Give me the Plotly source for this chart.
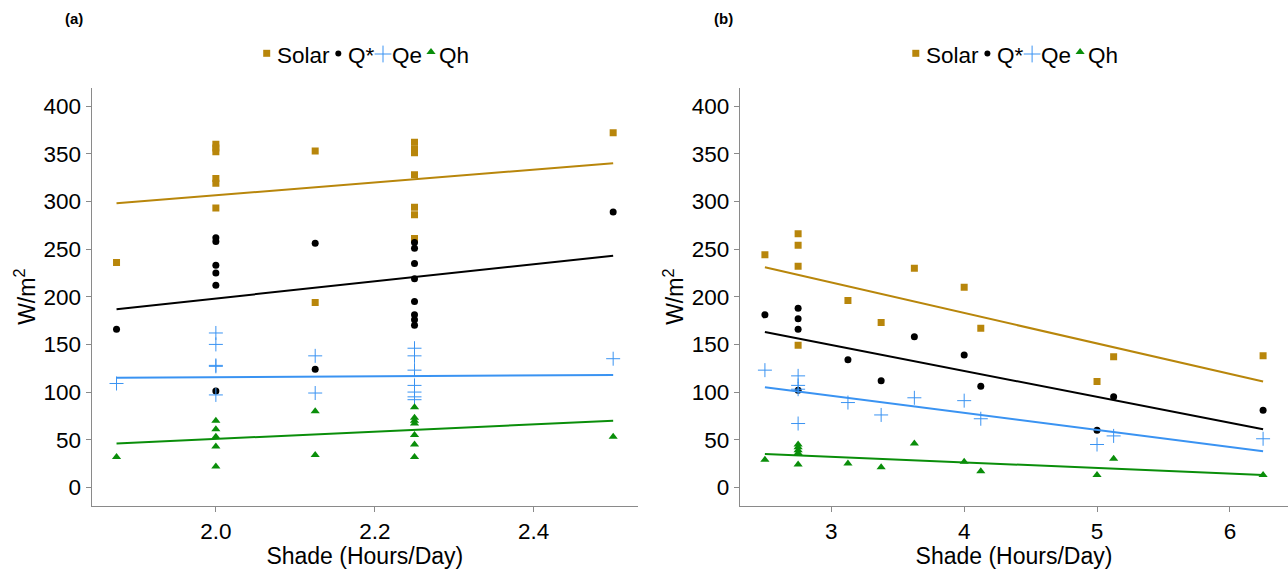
import plotly.graph_objects as go

W, H = 1288, 569

# ---------------- data: panel (a) ----------------
a_solar_x = [1.875, 2.0, 2.0, 2.0, 2.0, 2.0, 2.0, 2.125, 2.125, 2.25, 2.25, 2.25, 2.25, 2.25, 2.25, 2.25, 2.5]
a_solar_y = [236, 360, 356, 352, 324, 319, 293, 353, 194, 362, 355, 351, 328, 294, 286, 261, 372]

a_qstar_x = [1.875, 2.0, 2.0, 2.0, 2.0, 2.0, 2.0, 2.125, 2.125, 2.25, 2.25, 2.25, 2.25, 2.25, 2.25, 2.25, 2.25, 2.5]
a_qstar_y = [166, 262, 258, 233, 225, 212, 101, 256, 124, 257, 251, 235, 219, 195, 181, 176, 170, 289]

a_qe_x = [1.875, 2.0, 2.0, 2.0, 2.0, 2.0, 2.125, 2.125, 2.25, 2.25, 2.25, 2.25, 2.25, 2.25, 2.25, 2.5]
a_qe_y = [109, 162, 150, 128, 127, 97, 138, 99, 146, 138, 123, 107, 100, 95, 92, 135]

a_qh_x = [1.875, 2.0, 2.0, 2.0, 2.0, 2.0, 2.125, 2.125, 2.25, 2.25, 2.25, 2.25, 2.25, 2.25, 2.25, 2.5]
a_qh_y = [32, 70, 61, 53, 43, 22, 80, 34, 84, 73, 70, 67, 55, 45, 32, 53]

# fitted trend lines (value at first / last shade value), panel (a)
a_fit_x = [1.875, 2.5]
a_fit_solar = [298, 340]
a_fit_qstar = [187, 243]
a_fit_qe = [115, 118]
a_fit_qh = [46, 70]

# ---------------- data: panel (b) ----------------
b_solar_x = [2.5, 2.75, 2.75, 2.75, 2.75, 3.125, 3.375, 3.625, 4.0, 4.125, 5.0, 5.125, 6.25]
b_solar_y = [244, 266, 254, 232, 149, 196, 173, 230, 210, 167, 111, 137, 138]

b_qstar_x = [2.5, 2.75, 2.75, 2.75, 2.75, 3.125, 3.375, 3.625, 4.0, 4.125, 5.0, 5.125, 6.25]
b_qstar_y = [181, 188, 177, 166, 102, 134, 112, 158, 139, 106, 60, 95, 81]

b_qe_x = [2.5, 2.75, 2.75, 2.75, 2.75, 3.125, 3.375, 3.625, 4.0, 4.125, 5.0, 5.125, 6.25]
b_qe_y = [123, 117, 107, 103, 67, 89, 76, 94, 91, 72, 45, 54, 51]

b_qh_x = [2.5, 2.75, 2.75, 2.75, 2.75, 2.75, 3.125, 3.375, 3.625, 4.0, 4.125, 5.0, 5.125, 6.25]
b_qh_y = [29, 45, 42, 39, 36, 24, 25, 21, 46, 27, 17, 13, 30, 13]

b_fit_x = [2.5, 6.25]
b_fit_solar = [231, 111]
b_fit_qstar = [163, 61]
b_fit_qe = [105, 38]
b_fit_qh = [35, 13]

series_names = ["Solar", "Q*", "Qe", "Qh"]
colors = {"Solar": "#B8860B", "Q*": "#000000", "Qe": "#3A93F2", "Qh": "#0A8E0A"}
symbols = {"Solar": "square", "Q*": "circle", "Qe": "cross-thin-open", "Qh": "triangle-up"}
sizes = {"Solar": 7, "Q*": 7, "Qe": 10, "Qh": 8}

y_ticks = [0, 50, 100, 150, 200, 250, 300, 350, 400]
a_x_ticks = [2.0, 2.2, 2.4]
a_x_ticklabels = ["2.0", "2.2", "2.4"]
b_x_ticks = [3, 4, 5, 6]
b_x_ticklabels = ["3", "4", "5", "6"]

FONT = "Liberation Sans, Arial, sans-serif"

fig = go.Figure()

panels = [
    ("x", "y", a_fit_x,
     {"Solar": (a_solar_x, a_solar_y), "Q*": (a_qstar_x, a_qstar_y),
      "Qe": (a_qe_x, a_qe_y), "Qh": (a_qh_x, a_qh_y)},
     {"Solar": a_fit_solar, "Q*": a_fit_qstar, "Qe": a_fit_qe, "Qh": a_fit_qh}),
    ("x2", "y2", b_fit_x,
     {"Solar": (b_solar_x, b_solar_y), "Q*": (b_qstar_x, b_qstar_y),
      "Qe": (b_qe_x, b_qe_y), "Qh": (b_qh_x, b_qh_y)},
     {"Solar": b_fit_solar, "Q*": b_fit_qstar, "Qe": b_fit_qe, "Qh": b_fit_qh}),
]

for xa, ya, fx, pts, fits in panels:
    for s in series_names:
        px_, py_ = pts[s]
        mk = dict(color=colors[s], size=sizes[s], symbol=symbols[s])
        if s == "Qe":
            mk["line"] = dict(color="#4A9CF5", width=1)
        fig.add_trace(go.Scatter(x=px_, y=py_, mode="markers", xaxis=xa, yaxis=ya,
                                 marker=mk, showlegend=False, name=s))
    for s in series_names:
        fig.add_trace(go.Scatter(x=fx, y=fits[s], mode="lines", xaxis=xa, yaxis=ya,
                                 line=dict(color=colors[s], width=2), showlegend=False,
                                 name=s + " fit"))

# legend symbols drawn on a full-figure overlay axis (pixel coordinates)
leg_offsets = {"Solar": -98.2, "Q*": -26.6, "Qe": 18.1, "Qh": 66.1}
leg_text_offsets = {"Solar": -88.9, "Q*": -18.2, "Qe": 25.8, "Qh": 73.4}
leg_sym_y = {"Solar": 53.3, "Q*": 53.5, "Qe": 54, "Qh": 52}
leg_sizes = {"Solar": 7, "Q*": 6, "Qe": 12, "Qh": 8}
panel_centers = [364.9, 1014.0]
for s in series_names:
    fig.add_trace(go.Scatter(
        x=[c + leg_offsets[s] for c in panel_centers], y=[leg_sym_y[s]] * 2,
        mode="markers", xaxis="x3", yaxis="y3", showlegend=False, hoverinfo="skip",
        marker=dict(color=colors[s], size=leg_sizes[s], symbol=symbols[s],
                    line=dict(color="#8CC0F8", width=1.0) if s == "Qe" else dict(width=0)),
    ))

annotations = []
for c in panel_centers:
    for s in series_names:
        annotations.append(dict(
            x=(c + leg_text_offsets[s]) / W, y=1 - 56 / H, xref="paper", yref="paper",
            text=s, showarrow=False, xanchor="left", yanchor="middle",
            font=dict(family=FONT, size=22.5, color="black"), xshift=-1))
annotations.append(dict(x=74 / W, y=1 - 19 / H, xref="paper", yref="paper", text="<b>(a)</b>",
                        showarrow=False, xanchor="center", yanchor="middle",
                        font=dict(family=FONT, size=15, color="black")))
annotations.append(dict(x=723 / W, y=1 - 19 / H, xref="paper", yref="paper", text="<b>(b)</b>",
                        showarrow=False, xanchor="center", yanchor="middle",
                        font=dict(family=FONT, size=15, color="black")))

ydom = [(H - 505.5) / H, (H - 88) / H]
axis_common = dict(showline=True, linecolor="#8a8a8a", linewidth=1.3, ticks="outside",
                   ticklen=5, tickcolor="#8a8a8a", tickwidth=1.2, showgrid=False,
                   zeroline=False, tickfont=dict(family=FONT, size=22.5, color="black"),
                   mirror=False)

fig.update_layout(
    width=W, height=H, margin=dict(l=0, r=0, t=0, b=0),
    paper_bgcolor="white", plot_bgcolor="rgba(0,0,0,0)",
    annotations=annotations,
    xaxis=dict(domain=[91.7 / W, 638 / W], range=[1.84375, 2.53125], anchor="y",
               tickvals=a_x_ticks, ticktext=a_x_ticklabels,
               title=dict(text="Shade (Hours/Day)", font=dict(family=FONT, size=23, color="black"), standoff=7),
               **axis_common),
    yaxis=dict(domain=ydom, range=[-19, 419], anchor="x", tickvals=y_ticks,
               title=dict(text="W/m<sup>2</sup>", font=dict(family=FONT, size=23, color="black"), standoff=1),
               **axis_common),
    xaxis2=dict(domain=[740 / W, 1.0], range=[2.3125, 6.4375], anchor="y2",
                tickvals=b_x_ticks, ticktext=b_x_ticklabels,
                title=dict(text="Shade (Hours/Day)", font=dict(family=FONT, size=23, color="black"), standoff=7),
                **axis_common),
    yaxis2=dict(domain=ydom, range=[-19, 419], anchor="x2", tickvals=y_ticks,
                title=dict(text="W/m<sup>2</sup>", font=dict(family=FONT, size=23, color="black"), standoff=1),
                **axis_common),
    xaxis3=dict(domain=[0, 1], range=[0, W], visible=False, anchor="y3", fixedrange=True),
    yaxis3=dict(domain=[0, 1], range=[H, 0], visible=False, anchor="x3", fixedrange=True),
)

fig.write_html("out.html")
